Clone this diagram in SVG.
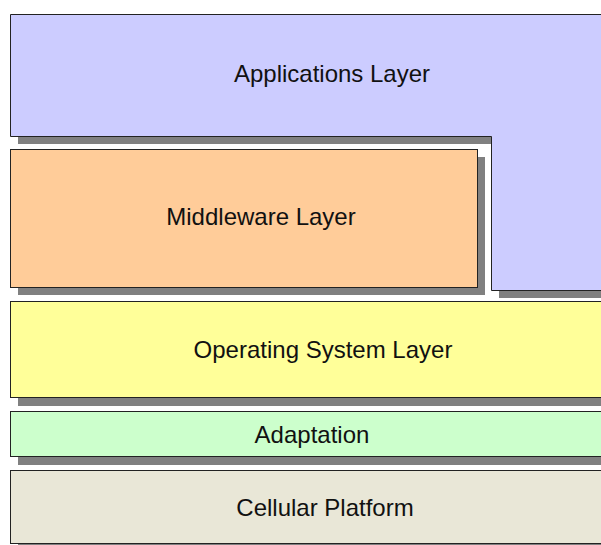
<svg xmlns="http://www.w3.org/2000/svg" width="601" height="545" viewBox="0 0 601 545">
<style>
.shadow{fill:#808080;stroke:none}
.box{stroke:#222;stroke-width:1}
.lbl{font-family:"Liberation Sans",Arial,sans-serif;font-size:24px;fill:#111;text-anchor:middle}
</style>
<rect width="601" height="545" fill="#fff"/>
<g id="applications">
<polygon class="shadow" points="18,22 628,22 628,298 499,298 499,144 18,144"/>
<polygon class="box" fill="#CCCCFF" points="10.5,14.5 620,14.5 620,290.5 491.5,290.5 491.5,136.5 10.5,136.5"/>
<text class="lbl" x="332" y="82">Applications Layer</text>
</g>
<g id="middleware">
<rect class="shadow" x="18" y="157" width="467" height="138"/>
<rect class="box" fill="#FFCC99" x="10.5" y="149.5" width="467" height="138"/>
<text class="lbl" x="261" y="225">Middleware Layer</text>
</g>
<g id="os">
<rect class="shadow" x="18" y="309" width="610" height="97"/>
<rect class="box" fill="#FFFF99" x="10.5" y="301.5" width="610" height="96"/>
<text class="lbl" x="323" y="358">Operating System Layer</text>
</g>
<g id="adaptation">
<rect class="shadow" x="18" y="419" width="610" height="46"/>
<rect class="box" fill="#CCFFCC" x="10.5" y="411.5" width="610" height="45"/>
<text class="lbl" x="312" y="443">Adaptation</text>
</g>
<g id="cellular">
<rect class="shadow" x="18" y="478" width="610" height="74"/>
<rect class="box" fill="#E9E7D7" x="10.5" y="470.5" width="610" height="73"/>
<text class="lbl" x="325" y="516">Cellular Platform</text>
</g>
<g id="connectors"/>
</svg>
